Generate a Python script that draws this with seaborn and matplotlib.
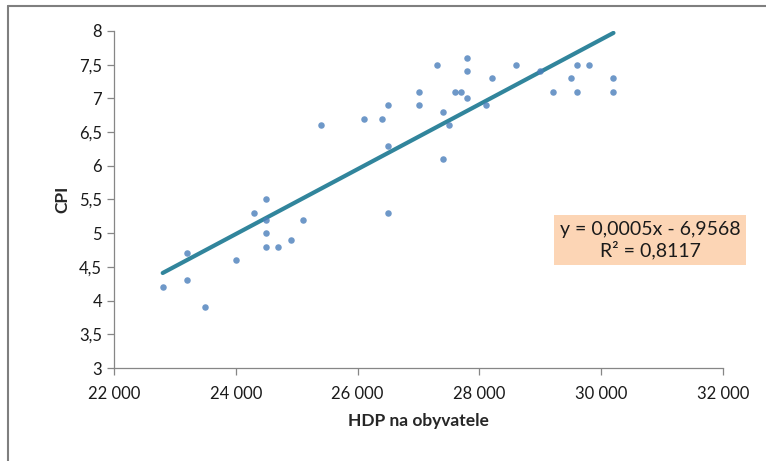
import numpy as np
import pandas as pd
import seaborn as sns
import matplotlib.pyplot as plt
from matplotlib.ticker import FuncFormatter, MultipleLocator
from matplotlib.lines import Line2D

# HDP na obyvatele vs. CPI
hdp = [22800, 23200, 23200, 23500, 24000, 24300, 24500, 24500, 24500, 24500,
       24700, 24900, 25100, 25400, 26100, 26400, 26500, 26500, 26500, 27000,
       27000, 27300, 27400, 27400, 27500, 27600, 27700, 27800, 27800, 27800,
       28100, 28200, 28600, 29000, 29200, 29500, 29600, 29600, 29800, 30200,
       30200]
cpi = [4.2, 4.7, 4.3, 3.9, 4.6, 5.3, 5.5, 5.2, 5.0, 4.8,
       4.8, 4.9, 5.2, 6.6, 6.7, 6.7, 6.9, 6.3, 5.3, 7.1,
       6.9, 7.5, 6.8, 6.1, 6.6, 7.1, 7.1, 7.6, 7.4, 7.0,
       6.9, 7.3, 7.5, 7.4, 7.1, 7.3, 7.5, 7.1, 7.5, 7.3,
       7.1]
eq_label = "y = 0,0005x - 6,9568\nR² = 0,8117"

df = pd.DataFrame({"HDP": hdp, "CPI": cpi})

sns.set_style("white")
plt.rcParams['font.family'] = ['Lato', 'DejaVu Sans']

fig = plt.figure(figsize=(7.66, 4.61), dpi=100)
ax = fig.add_axes([0.1488, 0.2017, 0.7952, 0.7311])

sns.regplot(data=df, x="HDP", y="CPI", ax=ax, ci=None,
            scatter_kws=dict(s=22, color="#4A7EBB", linewidths=0, zorder=3),
            line_kws=dict(color="#31859C", lw=3, zorder=2))

ax.set_xlim(22000, 32000)
ax.set_ylim(3, 8)
ax.xaxis.set_major_locator(MultipleLocator(2000))
ax.yaxis.set_major_locator(MultipleLocator(0.5))
ax.xaxis.set_major_formatter(FuncFormatter(lambda v, p: f"{int(v):,}".replace(",", " ")))
ax.yaxis.set_major_formatter(FuncFormatter(lambda v, p: f"{v:g}".replace(".", ",")))

for s in ["top", "right"]:
    ax.spines[s].set_visible(False)
for s in ["left", "bottom"]:
    ax.spines[s].set_color("#868686")
    ax.spines[s].set_linewidth(0.9)
ax.tick_params(axis="both", direction="out", length=5, width=0.9, color="#868686",
               labelsize=12, labelcolor="#1a1a1a", bottom=True, left=True)
ax.tick_params(axis="x", pad=8)

ax.set_xlabel("HDP na obyvatele", fontsize=12.5, fontweight="bold", labelpad=8)
ax.set_ylabel("CPI", fontsize=12.5, fontweight="bold", labelpad=6)

ax.text(30800, 4.9, eq_label, fontsize=14, ha="center", va="center",
        linespacing=1.15, color="#1a1a1a",
        bbox=dict(boxstyle="square,pad=0.3", fc="#FCD5B5", ec="none"))

# outer chart frame (partially cropped)
fig.add_artist(Line2D([8 / 766, 1.0], [1 - 6 / 461] * 2, color="#7F7F7F", lw=1.5))
fig.add_artist(Line2D([8 / 766] * 2, [0.0, 1 - 6 / 461], color="#7F7F7F", lw=1.5))

fig.savefig("out.png", dpi=100)
